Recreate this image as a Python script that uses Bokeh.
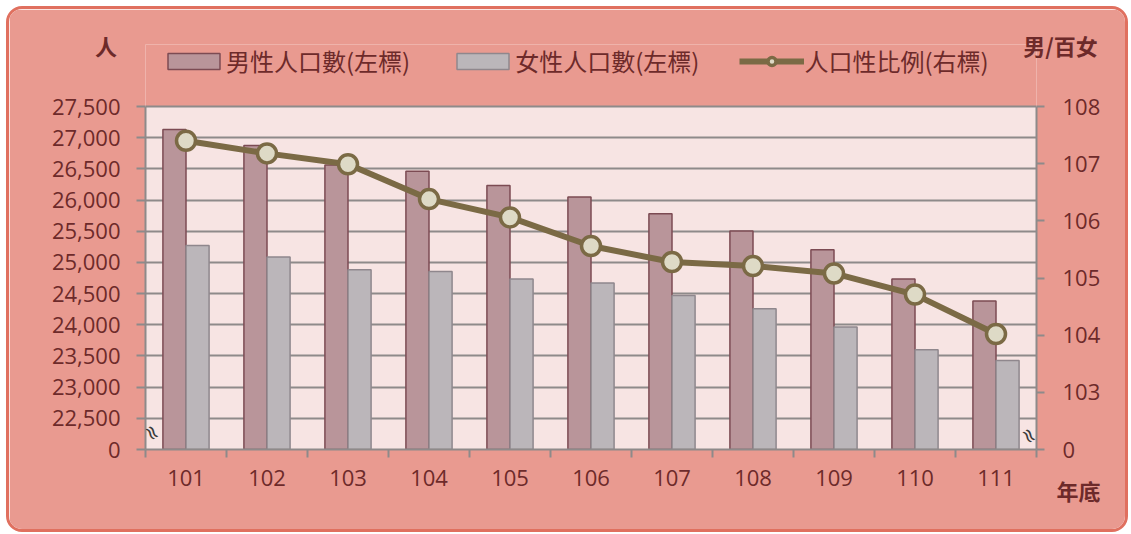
from bokeh.plotting import figure
from bokeh.models import (Range1d, LinearAxis, FixedTicker, ColumnDataSource, Legend, LegendItem,
                          BoxAnnotation, Label, Title)
from bokeh.transform import dodge
from bokeh.embed import file_html
from bokeh.resources import INLINE

years = ["101", "102", "103", "104", "105", "106", "107", "108", "109", "110", "111"]
male = [27130, 26875, 26560, 26463, 26234, 26047, 25780, 25502, 25203, 24733, 24380]
female = [25272, 25085, 24883, 24856, 24733, 24668, 24471, 24258, 23964, 23600, 23429]
ratio = [107.40, 107.18, 106.99, 106.38, 106.06, 105.56, 105.28, 105.21, 105.08, 104.71, 104.02]

left_ticks = [22000, 22500, 23000, 23500, 24000, 24500, 25000, 25500, 26000, 26500, 27000, 27500]
left_labels = ["0", "22,500", "23,000", "23,500", "24,000", "24,500", "25,000", "25,500", "26,000", "26,500", "27,000", "27,500"]
right_ticks = [102, 103, 104, 105, 106, 107, 108]
right_labels = ["0", "103", "104", "105", "106", "107", "108"]

TXT = "#6d2a2a"
GRID = "#8e8a8a"
NUM_FONT = "Open Sans"
CJK_FONT = "Noto Sans CJK TC"

# layout (pixels): plotting band height and the free band above it that holds the legend
BAND_H = 343
TOP_PAD = 62
ext = TOP_PAD / BAND_H
l0, l1 = left_ticks[0], left_ticks[-1]
r0, r1 = right_ticks[0], right_ticks[-1]

pos = list(range(1, len(years) + 1))
src = ColumnDataSource(dict(x=pos, male=male, female=female, ratio=ratio))

p = figure(width=1122, height=526, output_backend="svg", toolbar_location=None, title=None,
           x_range=Range1d(0.5, len(years) + 0.5),
           y_range=Range1d(l0, l1 + (l1 - l0) * ext),
           min_border_left=136, min_border_right=95, min_border_top=35, min_border_bottom=86)
p.extra_y_ranges = {"ratio": Range1d(r0, r1 + (r1 - r0) * ext)}

p.background_fill_color = "#e99a90"
p.border_fill_color = "#e99a90"
p.outline_line_color = None
p.styles = {"border": "3px solid #e0705f", "border-radius": "16px", "overflow": "hidden",
            "margin-left": "6px", "margin-top": "6px"}

p.add_layout(BoxAnnotation(bottom=l0, top=l1, fill_color="#f7e4e3", fill_alpha=1,
                           line_color=None, level="image"))

xa = p.xaxis[0]
xa.ticker = FixedTicker(ticks=pos, minor_ticks=[v - 0.5 for v in pos] + [pos[-1] + 0.5])
xa.major_label_overrides = {v: y for v, y in zip(pos, years)}
xa.major_tick_line_color = None
xa.minor_tick_line_color = GRID
xa.minor_tick_line_width = 2
xa.minor_tick_out = 8
xa.minor_tick_in = 0
xa.axis_line_color = GRID
xa.axis_line_width = 2
xa.major_label_text_font = NUM_FONT
xa.major_label_text_font_size = "22px"
xa.major_label_text_color = TXT
xa.major_label_standoff = 12

ya = p.yaxis[0]
ya.ticker = FixedTicker(ticks=left_ticks)
ya.bounds = (l0, l1)
ya.major_label_overrides = {t: l for t, l in zip(left_ticks, left_labels)}
ya.minor_tick_line_color = None
ya.major_tick_line_color = GRID
ya.major_tick_line_width = 2
ya.major_tick_out = 9
ya.major_tick_in = 0
ya.axis_line_color = GRID
ya.axis_line_width = 2
ya.major_label_text_font = NUM_FONT
ya.major_label_text_font_size = "22px"
ya.major_label_text_color = TXT
ya.major_label_standoff = 16
ya.axis_label = "人"
ya.axis_label_text_font = CJK_FONT
ya.axis_label_text_font_size = "22px"
ya.axis_label_text_font_style = "bold"
ya.axis_label_text_color = TXT
ya.axis_label_orientation = "horizontal"
ya.axis_label_standoff = -68
if "axis_label_align" in ya.properties():
    ya.axis_label_align = "end"

ra = LinearAxis(y_range_name="ratio", ticker=FixedTicker(ticks=right_ticks), bounds=(r0, r1))
ra.major_label_overrides = {t: l for t, l in zip(right_ticks, right_labels)}
ra.minor_tick_line_color = None
ra.major_tick_line_color = GRID
ra.major_tick_line_width = 2
ra.major_tick_out = 8
ra.major_tick_in = 0
ra.axis_line_color = GRID
ra.axis_line_width = 2
ra.major_label_text_font = NUM_FONT
ra.major_label_text_font_size = "22px"
ra.major_label_text_color = TXT
ra.major_label_standoff = 18
ra.axis_label = "男/百女"
ra.axis_label_text_font = CJK_FONT
ra.axis_label_text_font_size = "22px"
ra.axis_label_text_font_style = "bold"
ra.axis_label_text_color = TXT
ra.axis_label_orientation = "horizontal"
ra.axis_label_standoff = -80
if "axis_label_align" in ra.properties():
    ra.axis_label_align = "end"
p.add_layout(ra, "right")

p.add_layout(Title(text="年底", align="right", offset=-64, standoff=-35,
                   text_font=CJK_FONT, text_font_size="22px", text_font_style="bold",
                   text_color=TXT), "below")

p.xgrid.grid_line_color = None
p.ygrid.ticker = FixedTicker(ticks=left_ticks)
p.ygrid.grid_line_color = GRID
p.ygrid.grid_line_width = 2

bw = 0.285
rm = p.vbar(x=dodge("x", -bw / 2), top="male", bottom=l0, width=bw, source=src,
            fill_color="#b9959a", line_color="#7c4b53", line_width=1.5)
rf = p.vbar(x=dodge("x", bw / 2), top="female", bottom=l0, width=bw, source=src,
            fill_color="#bbb6ba", line_color="#8f878d", line_width=1.5)
rl = p.line(x="x", y="ratio", source=src, y_range_name="ratio", line_color="#7b6a45", line_width=6)
rs = p.scatter(x="x", y="ratio", source=src, y_range_name="ratio", size=19,
               fill_color="#dedac6", line_color="#7b6a45", line_width=3.5)

legend = Legend(items=[
    LegendItem(label="男性人口數(左標)", renderers=[rm]),
    LegendItem(label="女性人口數(左標)", renderers=[rf]),
    LegendItem(label="人口性比例(右標)", renderers=[rl, rs]),
], orientation="horizontal", location=(16, BAND_H + TOP_PAD - 34), background_fill_alpha=0,
    border_line_color=None, label_text_font=CJK_FONT, label_text_font_size="24px",
    label_text_color=TXT, glyph_width=65, glyph_height=20, label_standoff=0, spacing=40,
    padding=0, margin=0)
p.add_layout(legend, "center")

# axis-break marks, kept just inside the plotting band
p.add_layout(Label(x=0.5, y=l0, x_offset=7, y_offset=17, text="≈", angle=-1.0,
                   text_font="DejaVu Sans", text_font_size="20px", text_color="#3a3a3a",
                   text_align="center", text_baseline="middle"))
p.add_layout(Label(x=len(years) + 0.5, y=l0, x_offset=-7, y_offset=14, text="≈", angle=-1.0,
                   text_font="DejaVu Sans", text_font_size="20px", text_color="#3a3a3a",
                   text_align="center", text_baseline="middle"))

open("out.html", "w").write(file_html(p, INLINE))
